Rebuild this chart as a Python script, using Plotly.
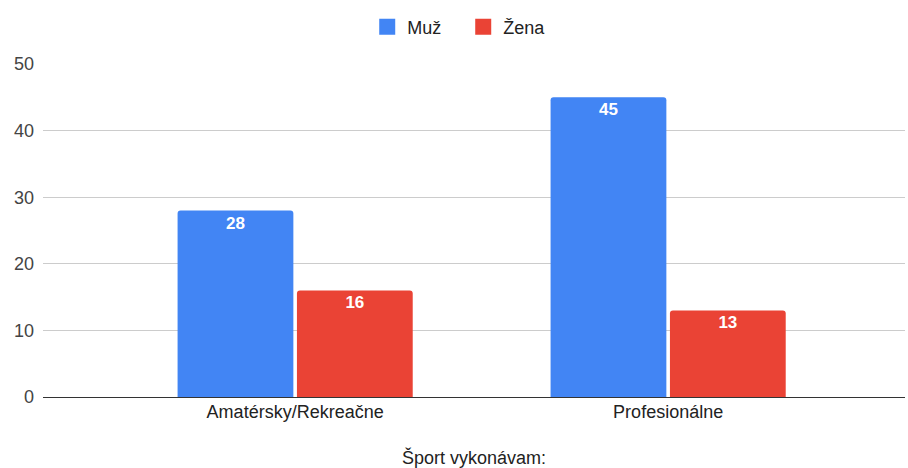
import plotly.graph_objects as go

categories = ["Amatérsky/Rekreačne", "Profesionálne"]
muz = [28, 45]
zena = [16, 13]
series_names = ["Muž", "Žena"]
colors = ["#4285F4", "#EA4335"]
x_title = "Šport vykonávam:"

FONT = "Liberation Sans, Arial"

fig = go.Figure()
for name, vals, col in zip(series_names, [muz, zena], colors):
    fig.add_trace(go.Bar(
        x=categories, y=vals, name=name, showlegend=False,
        marker=dict(color=col, cornerradius=3, line=dict(width=0)),
        text=[str(v) for v in vals], textposition="inside",
        insidetextanchor="end",
        textfont=dict(color="white", size=17, family=FONT, weight="bold"),
        textangle=0,
    ))
# legend-only entries with larger square swatches
for name, col in zip(series_names, colors):
    fig.add_trace(go.Scatter(
        x=[None], y=[None], mode="markers", name=name,
        marker=dict(symbol="square", size=16, color=col),
    ))

fig.update_layout(
    width=908, height=468,
    margin=dict(l=43, r=3, t=64, b=71),
    paper_bgcolor="white", plot_bgcolor="white",
    barmode="group", bargap=0.36, bargroupgap=0.03,
    font=dict(family=FONT, size=18, color="#222222"),
    legend=dict(orientation="h", x=0.4875, xanchor="center", y=1 - 27/468, yanchor="middle",
                yref="container", font=dict(size=18, color="#222222"),
                itemsizing="trace", itemwidth=30, entrywidth=51, entrywidthmode="pixels"),
    uniformtext=dict(minsize=17, mode="show"),
)
fig.update_xaxes(
    range=[-0.676, 1.635], showgrid=False, showline=False, automargin=False,
    tickfont=dict(size=18, color="#222222"), ticklabelstandoff=2,
    title=dict(text=x_title, standoff=30, font=dict(size=18, color="#222222")),
)
fig.update_yaxes(
    range=[0, 50], dtick=10, showgrid=True, gridcolor="#CCCCCC", gridwidth=1,
    zeroline=True, zerolinecolor="#333333", zerolinewidth=1.3, automargin=False,
    tickfont=dict(size=18, color="#444444"), ticklabelstandoff=8,
)
fig.write_html("out.html", config={"displayModeBar": False},
               post_script="document.body.style.margin='0';")
